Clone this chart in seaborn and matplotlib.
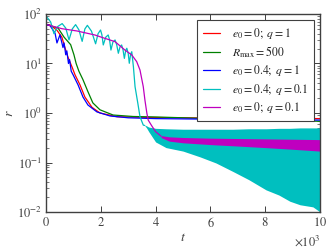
import numpy as np
import matplotlib
matplotlib.use("Agg")
import matplotlib.pyplot as plt
import seaborn as sns

# e0 = 0; q = 1
t_red = [0, 150, 400, 580, 690, 800, 950, 1060, 1240, 1420, 1680, 1970, 2590, 4000, 6000, 8000, 10000]
r_red = [62, 60, 47, 34, 21, 13.5, 8.5, 5.9, 3.7, 2.1, 1.3, 1.0, 0.84, 0.81, 0.79, 0.78, 0.77]

# R_max = 500
t_green = [0, 440, 660, 900, 1020, 1100, 1200, 1350, 1530, 1710, 1970, 2450, 3180, 4050, 6000, 8000, 10000]
r_green = [62, 52, 34, 24, 15, 10, 7, 4.7, 2.7, 1.6, 1.16, 0.91, 0.85, 0.83, 0.77, 0.72, 0.68]

# e0 = 0.4; q = 1
t_blue = [0, 150, 330, 400, 510, 620, 660, 720, 760, 820, 860, 920, 990, 1170, 1350, 1530, 1860, 2340, 3000, 4000, 6000, 8000, 10000]
r_blue = [62, 58, 41, 26, 38, 21, 26, 15, 18, 10, 12, 7, 5.9, 3.7, 2.1, 1.45, 1.05, 0.87, 0.80, 0.77, 0.75, 0.73, 0.72]

# e0 = 0.4; q = 0.1 (orbit phase, then spread band)
t_cyan = [0, 30, 170, 290, 430, 590, 720, 840, 960, 1080, 1200, 1320, 1420, 1510, 1660, 1810,
          1900, 1990, 2040, 2090, 2180, 2270, 2320, 2370, 2440, 2520, 2580, 2640, 2700, 2760,
          2810, 2860, 2910, 2950, 3000, 3040, 3090, 3130, 3190, 3250, 3350, 3430, 3550, 3600]
r_cyan = [88, 87, 69, 40, 56, 64, 52, 30, 50, 61, 48, 28, 50, 59, 45, 25,
          40, 47.5, 38, 23.7, 34, 37.7, 30, 18.7, 27, 29.9, 24, 16.1, 21.5, 23.7,
          19, 12.7, 18.5, 20.3, 16, 10.1, 15.5, 17.3, 8.6, 3.4, 1.59, 0.84, 0.57, 0.56]
t_cyan_band = [3600, 3670, 3750, 4000, 4380, 5000, 5620, 6200, 6820, 7400, 8030, 8500, 8900, 9270, 9740, 9900, 10000]
r_cyan_hi = [0.57, 0.55, 0.52, 0.49, 0.48, 0.47, 0.47, 0.47, 0.47, 0.48, 0.48, 0.49, 0.49, 0.5, 0.5, 0.5, 0.5]
r_cyan_lo = [0.56, 0.5, 0.42, 0.26, 0.2, 0.17, 0.13, 0.098, 0.066, 0.045, 0.028, 0.022, 0.0165, 0.014, 0.0127, 0.011, 0.01]

# e0 = 0; q = 0.1
t_mag = [0, 30, 580, 1130, 1790, 2000, 2520, 2880, 3130, 3310, 3430, 3550, 3610, 3680, 3730, 3860, 4000, 4200]
r_mag = [61, 60.8, 50.5, 45.4, 37.6, 34.3, 27.6, 18.7, 14.9, 10.9, 7.4, 3.4, 1.83, 1.0, 0.72, 0.55, 0.42, 0.34]
t_mag_band = [4200, 4500, 5000, 6000, 7000, 8000, 9000, 10000]
r_mag_hi = [0.35, 0.33, 0.32, 0.31, 0.305, 0.30, 0.295, 0.29]
r_mag_lo = [0.32, 0.27, 0.25, 0.23, 0.215, 0.20, 0.185, 0.17]

RED, GREEN, BLUE, CYAN, MAGENTA = "#ff0000", "#008000", "#0000ff", "#00bfbf", "#bf00bf"

sns.set_theme(style="ticks")
plt.rcParams["font.family"] = ["STIXGeneral", "DejaVu Serif"]
plt.rcParams["mathtext.fontset"] = "stix"

edge = "#404040"
fig = plt.figure(figsize=(3.32, 2.49), dpi=100)
ax = fig.add_axes([46 / 332, 1 - 212 / 249, 274 / 332, 198 / 249])

lw = 0.9
sns.lineplot(x=t_red, y=r_red, color=RED, lw=lw, ax=ax, estimator=None, sort=False, label=r"$e_0 = 0;\ q = 1$")
sns.lineplot(x=t_green, y=r_green, color=GREEN, lw=lw, ax=ax, estimator=None, sort=False, label=r"$R_{\rm max} = 500$")
sns.lineplot(x=t_blue, y=r_blue, color=BLUE, lw=lw, ax=ax, estimator=None, sort=False, label=r"$e_0 = 0.4;\ q = 1$")
sns.lineplot(x=t_cyan, y=r_cyan, color=CYAN, lw=lw, ax=ax, estimator=None, sort=False, label=r"$e_0 = 0.4;\ q = 0.1$")
ax.fill_between(t_cyan_band, r_cyan_lo, r_cyan_hi, color=CYAN, lw=0)
sns.lineplot(x=t_mag, y=r_mag, color=MAGENTA, lw=lw, ax=ax, estimator=None, sort=False, label=r"$e_0 = 0;\ q = 0.1$")
ax.fill_between(t_mag_band, r_mag_lo, r_mag_hi, color=MAGENTA, lw=0)

ax.set_yscale("log")
ax.set_xlim(0, 10000)
ax.set_ylim(1e-2, 1e2)
ax.set_xticks([0, 2000, 4000, 6000, 8000, 10000])
ax.ticklabel_format(axis="x", style="sci", scilimits=(3, 3), useMathText=True)
ax.xaxis.get_offset_text().set_fontsize(9)
ax.xaxis.get_offset_text().set_color(edge)

ax.set_xlabel(r"$t$", fontsize=10, labelpad=0, color=edge)
ax.set_ylabel(r"$r$", fontsize=10, labelpad=1, color=edge)

ax.tick_params(which="both", direction="in", top=True, right=True, colors=edge, labelsize=9)
ax.tick_params(which="major", length=4, width=0.7, pad=3)
ax.tick_params(which="minor", length=2, width=0.5)
for s in ax.spines.values():
    s.set_color(edge)
    s.set_linewidth(1.0)

leg = ax.legend(loc="upper right", fontsize=8.5, frameon=True, fancybox=False, framealpha=1,
                edgecolor=edge, handlelength=1.4, handletextpad=1.0, labelspacing=0.3,
                borderpad=0.5, borderaxespad=0.5)
leg.get_frame().set_linewidth(0.8)
for t in leg.get_texts():
    t.set_color("#222222")

fig.savefig("out.png", dpi=100)
